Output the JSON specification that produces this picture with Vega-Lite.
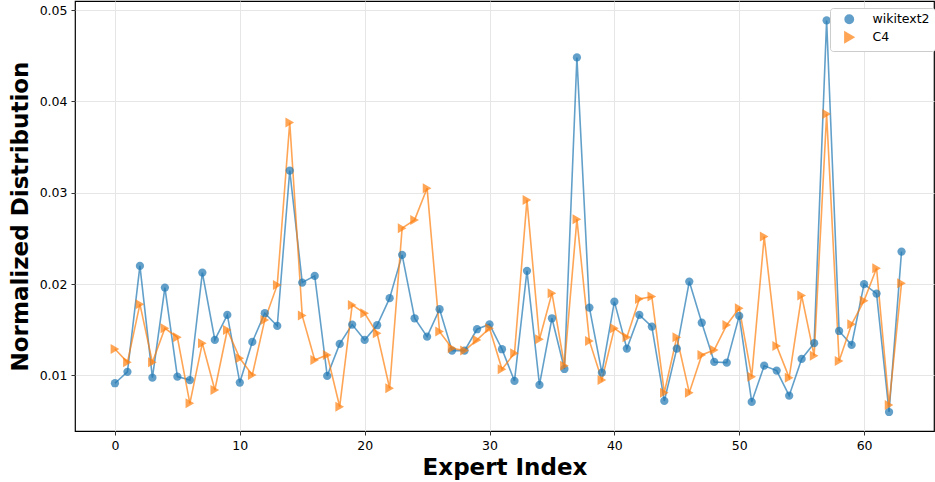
{
  "$schema": "https://vega.github.io/schema/vega-lite/v6.json",
  "autosize": {"type": "none"},
  "width": 859,
  "height": 430,
  "padding": {"left": 75, "top": 1, "right": 1, "bottom": 51},
  "background": "white",
  "config": {
    "view": {"stroke": "#000000", "strokeWidth": 1.2},
    "font": "DejaVu Sans",
    "axis": {
      "domain": false,
      "gridColor": "#e6e6e6",
      "gridWidth": 1,
      "tickColor": "#333333",
      "tickSize": 4,
      "labelFont": "DejaVu Sans",
      "labelFontSize": 12.5,
      "labelColor": "#000000",
      "titleFont": "DejaVu Sans",
      "titleFontSize": 23,
      "titleFontWeight": "bold",
      "titleColor": "#000000"
    }
  },
  "data": {
    "values": [
      {"expert": 0, "wikitext2": 0.00915, "C4": 0.0129},
      {"expert": 1, "wikitext2": 0.0104, "C4": 0.01144},
      {"expert": 2, "wikitext2": 0.02199, "C4": 0.0178},
      {"expert": 3, "wikitext2": 0.00976, "C4": 0.01144},
      {"expert": 4, "wikitext2": 0.01962, "C4": 0.01517},
      {"expert": 5, "wikitext2": 0.00987, "C4": 0.01418},
      {"expert": 6, "wikitext2": 0.0095, "C4": 0.00695},
      {"expert": 7, "wikitext2": 0.02126, "C4": 0.01353},
      {"expert": 8, "wikitext2": 0.01389, "C4": 0.00841},
      {"expert": 9, "wikitext2": 0.01663, "C4": 0.01498},
      {"expert": 10, "wikitext2": 0.00922, "C4": 0.01188},
      {"expert": 11, "wikitext2": 0.01367, "C4": 0.01005},
      {"expert": 12, "wikitext2": 0.01681, "C4": 0.01608},
      {"expert": 13, "wikitext2": 0.01542, "C4": 0.01991},
      {"expert": 14, "wikitext2": 0.03243, "C4": 0.03769},
      {"expert": 15, "wikitext2": 0.02017, "C4": 0.01655},
      {"expert": 16, "wikitext2": 0.0209, "C4": 0.0117},
      {"expert": 17, "wikitext2": 0.00995, "C4": 0.01225},
      {"expert": 18, "wikitext2": 0.01345, "C4": 0.00658},
      {"expert": 19, "wikitext2": 0.01557, "C4": 0.01772},
      {"expert": 20, "wikitext2": 0.01389, "C4": 0.01681},
      {"expert": 21, "wikitext2": 0.0155, "C4": 0.01462},
      {"expert": 22, "wikitext2": 0.01846, "C4": 0.0086},
      {"expert": 23, "wikitext2": 0.0232, "C4": 0.02612},
      {"expert": 24, "wikitext2": 0.01626, "C4": 0.02703},
      {"expert": 25, "wikitext2": 0.01425, "C4": 0.0305},
      {"expert": 26, "wikitext2": 0.01725, "C4": 0.0148},
      {"expert": 27, "wikitext2": 0.01272, "C4": 0.01298},
      {"expert": 28, "wikitext2": 0.01272, "C4": 0.01272},
      {"expert": 29, "wikitext2": 0.01506, "C4": 0.01389},
      {"expert": 30, "wikitext2": 0.0156, "C4": 0.01517},
      {"expert": 31, "wikitext2": 0.01287, "C4": 0.01068},
      {"expert": 32, "wikitext2": 0.0094, "C4": 0.01243},
      {"expert": 33, "wikitext2": 0.02145, "C4": 0.02922},
      {"expert": 34, "wikitext2": 0.00896, "C4": 0.01396},
      {"expert": 35, "wikitext2": 0.01626, "C4": 0.019},
      {"expert": 36, "wikitext2": 0.01071, "C4": 0.01107},
      {"expert": 37, "wikitext2": 0.04481, "C4": 0.02711},
      {"expert": 38, "wikitext2": 0.01743, "C4": 0.01378},
      {"expert": 39, "wikitext2": 0.01031, "C4": 0.0095},
      {"expert": 40, "wikitext2": 0.01808, "C4": 0.01517},
      {"expert": 41, "wikitext2": 0.01294, "C4": 0.01418},
      {"expert": 42, "wikitext2": 0.01663, "C4": 0.01838},
      {"expert": 43, "wikitext2": 0.01535, "C4": 0.01863},
      {"expert": 44, "wikitext2": 0.00721, "C4": 0.00812},
      {"expert": 45, "wikitext2": 0.01294, "C4": 0.01418},
      {"expert": 46, "wikitext2": 0.02028, "C4": 0.00812},
      {"expert": 47, "wikitext2": 0.01577, "C4": 0.01225},
      {"expert": 48, "wikitext2": 0.01148, "C4": 0.01279},
      {"expert": 49, "wikitext2": 0.0114, "C4": 0.01553},
      {"expert": 50, "wikitext2": 0.01652, "C4": 0.01736},
      {"expert": 51, "wikitext2": 0.0071, "C4": 0.00987},
      {"expert": 52, "wikitext2": 0.01107, "C4": 0.0252},
      {"expert": 53, "wikitext2": 0.01053, "C4": 0.01323},
      {"expert": 54, "wikitext2": 0.00779, "C4": 0.00976},
      {"expert": 55, "wikitext2": 0.01181, "C4": 0.01874},
      {"expert": 56, "wikitext2": 0.01353, "C4": 0.01217},
      {"expert": 57, "wikitext2": 0.04886, "C4": 0.03861},
      {"expert": 58, "wikitext2": 0.01487, "C4": 0.01159},
      {"expert": 59, "wikitext2": 0.01334, "C4": 0.0156},
      {"expert": 60, "wikitext2": 0.01999, "C4": 0.01819},
      {"expert": 61, "wikitext2": 0.01896, "C4": 0.02174},
      {"expert": 62, "wikitext2": 0.006, "C4": 0.00677},
      {"expert": 63, "wikitext2": 0.02356, "C4": 0.0201}
    ]
  },
  "transform": [
    {"fold": ["wikitext2", "C4"], "as": ["series", "value"]}
  ],
  "encoding": {
    "x": {
      "field": "expert",
      "type": "quantitative",
      "scale": {"domain": [-3.2, 65.6], "nice": false, "zero": false},
      "axis": {"values": [0, 10, 20, 30, 40, 50, 60], "title": "Expert Index", "titlePadding": 5, "labelPadding": 4}
    },
    "y": {
      "field": "value",
      "type": "quantitative",
      "scale": {"domain": [0.00392, 0.05099], "nice": false, "zero": false},
      "axis": {"values": [0.01, 0.02, 0.03, 0.04, 0.05], "format": ".2f", "title": "Normalized Distribution", "titlePadding": 7, "labelPadding": 4}
    },
    "color": {
      "field": "series",
      "type": "nominal",
      "scale": {"domain": ["wikitext2", "C4"], "range": ["#1f77b4", "#ff7f0e"]},
      "legend": {
        "title": null,
        "orient": "none",
        "legendX": 755,
        "legendY": 7,
        "padding": 5,
        "fillColor": "white",
        "strokeColor": "#cccccc",
        "cornerRadius": 3,
        "labelFontSize": 12.5,
        "labelFont": "DejaVu Sans",
        "labelColor": "#000000",
        "symbolSize": 100,
        "symbolOffset": 8,
        "labelOffset": 17,
        "rowPadding": 2,
        "symbolOpacity": 0.7,
        "symbolStrokeWidth": 1.6
      }
    }
  },
  "layer": [
    {
      "mark": {"type": "line", "strokeWidth": 1.6, "opacity": 0.7},
      "encoding": {"detail": {"field": "series"}}
    },
    {
      "mark": {"type": "point", "filled": true, "opacity": 0.7},
      "encoding": {
        "shape": {
          "field": "series",
          "type": "nominal",
          "scale": {"domain": ["wikitext2", "C4"], "range": ["circle", "triangle-right"]},
          "legend": null
        },
        "size": {
          "field": "series",
          "type": "nominal",
          "scale": {"domain": ["wikitext2", "C4"], "range": [68, 100]},
          "legend": null
        }
      }
    }
  ]
}
